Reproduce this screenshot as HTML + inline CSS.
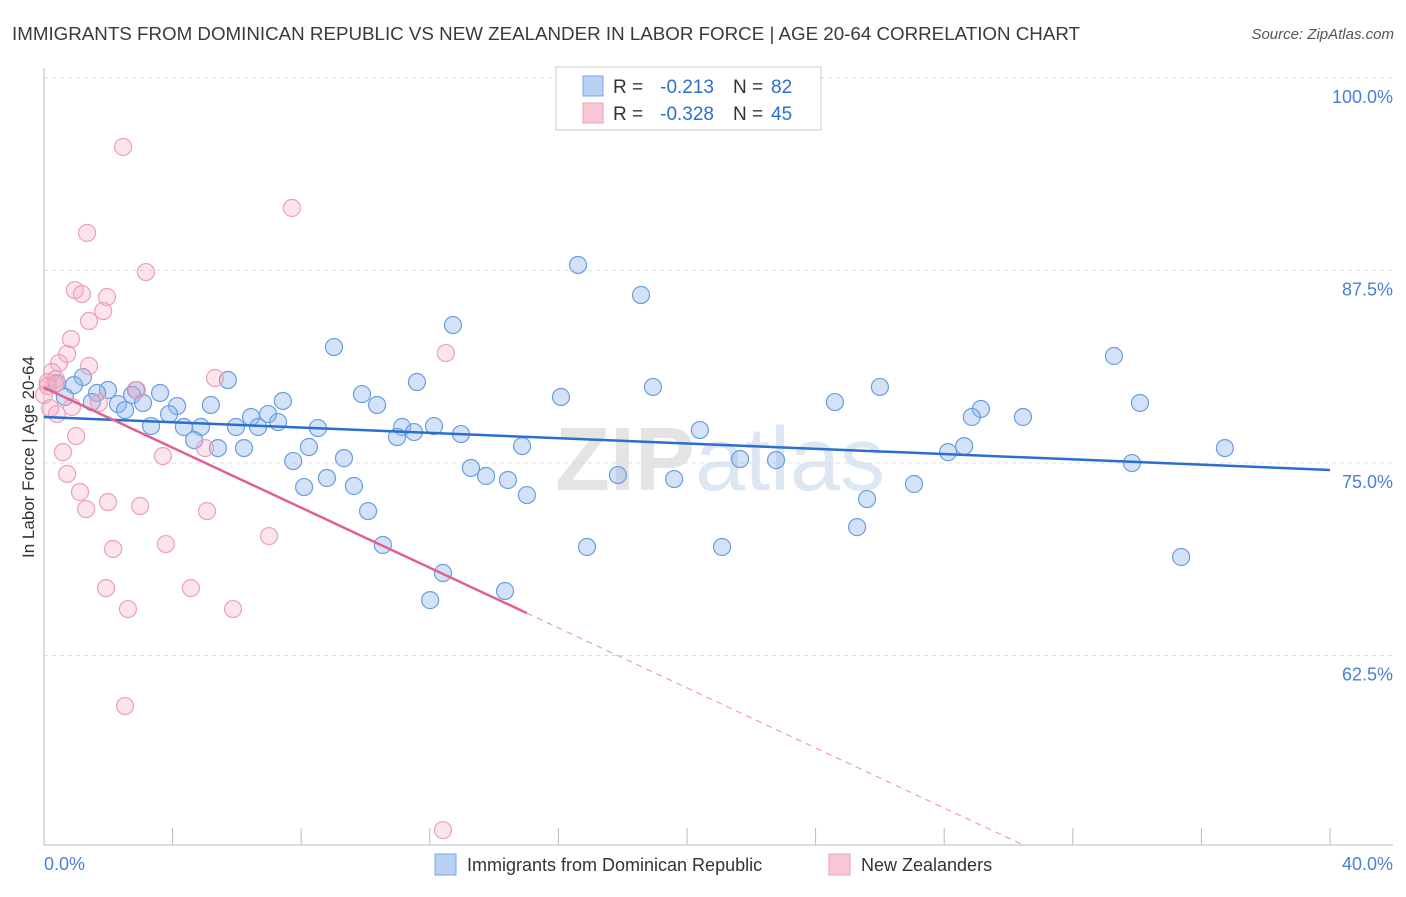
<!DOCTYPE html>
<html><head><meta charset="utf-8"><style>
body{margin:0;background:#fff;font-family:"Liberation Sans",sans-serif;}
svg text{font-family:"Liberation Sans",sans-serif;}
</style></head><body>
<svg id="chart" width="1406" height="892" xmlns="http://www.w3.org/2000/svg">
<text x="12" y="40" font-size="18.5" fill="#3a3a3a" textLength="1068" lengthAdjust="spacingAndGlyphs">IMMIGRANTS FROM DOMINICAN REPUBLIC VS NEW ZEALANDER IN LABOR FORCE | AGE 20-64 CORRELATION CHART</text>
<text x="1394" y="39" font-size="15" fill="#555" text-anchor="end" font-style="italic">Source: ZipAtlas.com</text>
<text x="720" y="490" font-size="90" fill="#e4e4e4" text-anchor="middle" font-family="Liberation Serif" font-weight="bold">ZIP<tspan fill="#dde6f3" font-family="Liberation Sans" font-weight="normal">atlas</tspan></text>
<g id="grid"></g><g id="axes"></g><g id="pts"></g><g id="lines"></g>
<text transform="translate(34,457) rotate(-90)" font-size="17" fill="#333" text-anchor="middle">In Labor Force | Age 20-64</text>
<text x="44" y="870" font-size="18" fill="#4a7fd8">0.0%</text>
<text x="1393" y="870" font-size="18" fill="#4a7fd8" text-anchor="end">40.0%</text>
<g>
<rect x="556" y="67" width="265" height="63" fill="#fff" stroke="#ccc"/>
<rect x="583" y="76" width="20" height="20" fill="#b8d0f4" stroke="#7aa6e6"/>
<rect x="583" y="103" width="20" height="20" fill="#f8c8d6" stroke="#eca0b8"/>
<text x="613" y="93" font-size="19" fill="#333">R =</text>
<text x="714" y="93" font-size="19" fill="#2a6fd0" text-anchor="end">-0.213</text>
<text x="733" y="93" font-size="19" fill="#333">N =</text>
<text x="771" y="93" font-size="19" fill="#2a6fd0">82</text>
<text x="613" y="120" font-size="19" fill="#333">R =</text>
<text x="714" y="120" font-size="19" fill="#2a6fd0" text-anchor="end">-0.328</text>
<text x="733" y="120" font-size="19" fill="#333">N =</text>
<text x="771" y="120" font-size="19" fill="#2a6fd0">45</text>
</g>
<g>
<rect x="435" y="854" width="21" height="21" fill="#b8d0f4" stroke="#7aa6e6"/>
<text x="467" y="871" font-size="18" fill="#333">Immigrants from Dominican Republic</text>
<rect x="829" y="854" width="21" height="21" fill="#f8c8d6" stroke="#eca0b8"/>
<text x="861" y="871" font-size="18" fill="#333">New Zealanders</text>
</g>
</svg>
<script>
const yTicks=[62.5,75,87.5,100];
const yTickLabels=["62.5%","75.0%","87.5%","100.0%"];
const xTicks=[0,4,8,12,16,20,24,28,32,36,40];
const blueX=[16.61,18.57,12.72,9.02,33.28,11.60,18.94,26.00,5.72,1.21,0.40,0.93,1.99,2.86,3.61,2.74,1.65,0.65,1.49,2.30,3.08,4.14,5.19,7.43,9.89,10.36,16.08,24.60,34.09,29.14,28.86,30.45,6.44,6.97,7.28,6.66,5.97,4.88,3.33,2.52,3.89,4.35,4.67,5.41,6.22,8.24,8.52,11.14,10.98,11.51,12.13,12.97,14.87,20.40,28.62,28.12,7.75,9.33,13.28,13.75,14.43,8.80,8.09,9.64,15.02,17.85,19.60,21.65,22.77,36.73,33.84,27.06,25.60,10.08,25.29,10.54,16.89,21.09,35.37,12.41,14.34,12.01];
const blueY=[87.86,85.91,83.96,82.53,81.95,80.26,79.94,79.94,80.39,80.58,80.19,80.06,79.74,79.74,79.55,79.42,79.55,79.29,78.96,78.83,78.90,78.70,78.77,79.03,79.48,78.77,79.29,78.96,78.90,78.51,77.99,77.99,77.99,78.18,77.66,77.34,77.34,77.34,77.40,78.44,78.18,77.34,76.49,75.97,75.97,76.04,77.27,77.34,76.69,77.01,77.40,76.88,76.10,77.14,76.10,75.71,75.13,75.32,74.68,74.16,73.90,74.03,73.44,73.51,72.92,74.22,73.96,75.26,75.19,75.97,75.00,73.64,72.66,71.88,70.84,69.68,69.55,69.55,68.90,67.86,66.69,66.10];
const pinkX=[2.46,7.71,1.34,3.17,0.96,1.18,1.96,1.84,1.40,0.84,0.72,0.47,1.40,12.50,0.25,0.37,5.32,2.89,0.12,0.00,0.19,0.40,0.87,1.71,1.00,0.59,3.70,5.01,0.72,1.12,1.99,2.99,1.31,5.07,3.79,7.00,2.15,1.93,4.57,2.61,5.88,2.52,12.41,0.12,0.34];
const pinkY=[95.52,91.56,89.94,87.40,86.23,85.97,85.78,84.87,84.22,83.05,82.08,81.49,81.30,82.14,80.91,80.45,80.52,79.74,80.00,79.42,78.57,78.18,78.64,78.90,76.75,75.71,75.45,75.97,74.29,73.12,72.47,72.21,72.01,71.88,69.74,70.26,69.42,66.88,66.88,65.52,65.52,59.22,51.17,80.26,80.13];
const blueTrend=[77.99,-0.086];
const pinkTrend=[79.9,-0.975];
const X0=44,X1=1330,Y0=845,YTOP=78,yMin=50.2,yMax=100;
const sx=v=>X0+(v/40)*(X1-X0);
const sy=v=>Y0-(v-yMin)/(yMax-yMin)*(Y0-YTOP);
const NS="http://www.w3.org/2000/svg";
function mk(tag,parent,attrs){const e=document.createElementNS(NS,tag);for(const k in attrs)e.setAttribute(k,attrs[k]);parent.appendChild(e);return e;}
const grid=document.getElementById('grid'),axes=document.getElementById('axes'),pts=document.getElementById('pts'),lines=document.getElementById('lines');
yTicks.forEach((t,i)=>{
 const l=mk('line',grid,{x1:X0,x2:1393,y1:sy(t),y2:sy(t),stroke:'#ddd','stroke-dasharray':'4,4'});
 
 
 const tx=mk('text',grid,{x:1393,y:sy(t)+25,'font-size':18,fill:'#4a7fd8','text-anchor':'end'});
 tx.textContent=yTickLabels[i];
 
 
});
const ya=mk('line',axes,{x1:X0,x2:X0,y1:68,y2:Y0,stroke:'#bbb'});


const xa=mk('line',axes,{x1:X0,x2:1393,y1:Y0,y2:Y0,stroke:'#bbb'});


xTicks.forEach(t=>{
 const k=mk('line',axes,{x1:sx(t),x2:sx(t),y1:Y0,y2:Y0-17,stroke:'#bbb'});
 
 
});
blueX.forEach((x,i)=>{
 const c=mk('circle',pts,{cx:sx(x),cy:sy(blueY[i]),r:8.5,fill:'rgba(140,180,235,0.38)',stroke:'#6a9ee0','stroke-width':1.2});
 
 
});
pinkX.forEach((x,i)=>{
 const c=mk('circle',pts,{cx:sx(x),cy:sy(pinkY[i]),r:8.5,fill:'rgba(245,165,190,0.3)',stroke:'#eca0b8','stroke-width':1.2});
 
 
});
const bl=mk('line',lines,{x1:sx(0),y1:sy(blueTrend[0]),x2:sx(40),y2:sy(blueTrend[0]+blueTrend[1]*40),stroke:'#2a6fd0','stroke-width':2.5});


const pEnd=15.02, pDash=(yMin-pinkTrend[0])/pinkTrend[1];
const pl=mk('line',lines,{x1:sx(0),y1:sy(pinkTrend[0]),x2:sx(pEnd),y2:sy(pinkTrend[0]+pinkTrend[1]*pEnd),stroke:'#e06090','stroke-width':2.5});


const pd=mk('line',lines,{x1:sx(pEnd),y1:sy(pinkTrend[0]+pinkTrend[1]*pEnd),x2:sx(pDash),y2:sy(yMin),stroke:'#eca0b8','stroke-width':1.2,'stroke-dasharray':'6,5'});


</script>
</body></html>
